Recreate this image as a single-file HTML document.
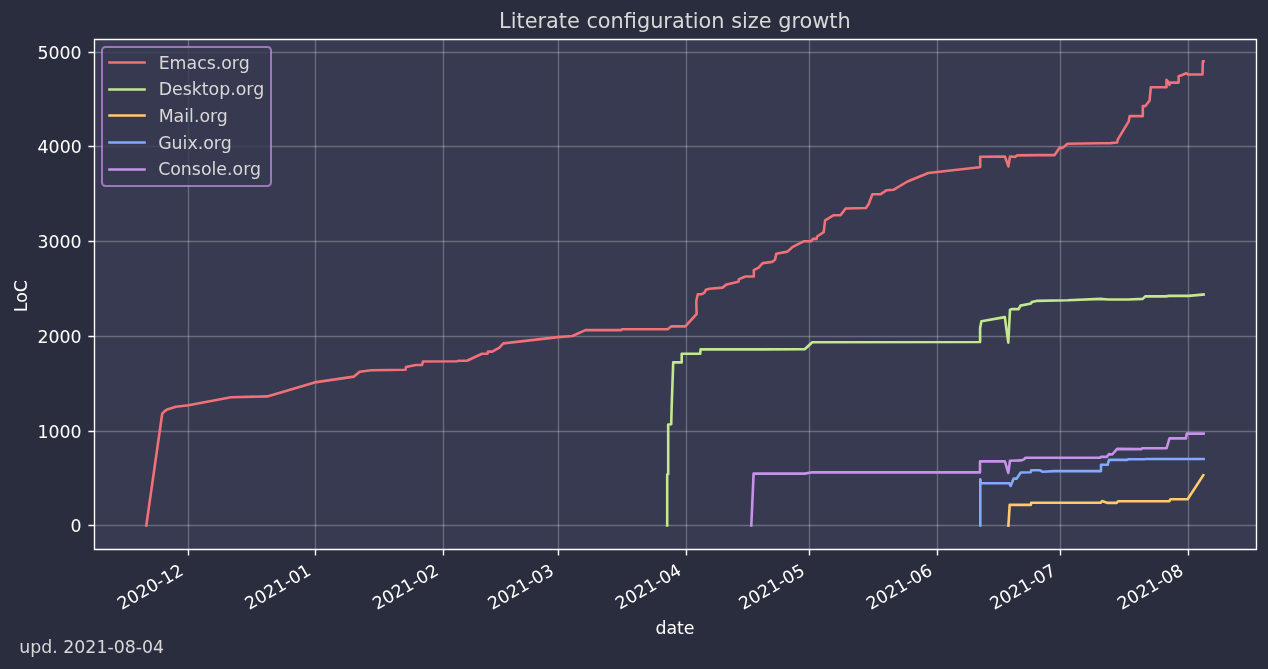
<!DOCTYPE html>
<html><head><meta charset="utf-8"><title>Literate configuration size growth</title>
<style>html,body{margin:0;padding:0;background:#292d3e;overflow:hidden}svg{display:block;will-change:transform}text{font-family:'DejaVu Sans', 'Liberation Sans', sans-serif;}</style></head><body>
<svg width="1268" height="669" viewBox="0 0 1268 669">
<rect x="0" y="0" width="1268" height="669" fill="#292d3e"/>
<rect x="94.5" y="39.5" width="1162.0" height="510.0" fill="#373a50"/>
<g stroke="#ffffff" stroke-opacity="0.25" stroke-width="1.3889" fill="none">
<path d="M188.5 39.5V549.5"/>
<path d="M315.5 39.5V549.5"/>
<path d="M443.5 39.5V549.5"/>
<path d="M558.5 39.5V549.5"/>
<path d="M686.5 39.5V549.5"/>
<path d="M809.5 39.5V549.5"/>
<path d="M937.5 39.5V549.5"/>
<path d="M1060.5 39.5V549.5"/>
<path d="M1188.5 39.5V549.5"/>
<path d="M94.5 525.5H1256.5"/>
<path d="M94.5 431.5H1256.5"/>
<path d="M94.5 336.5H1256.5"/>
<path d="M94.5 241.5H1256.5"/>
<path d="M94.5 146.5H1256.5"/>
<path d="M94.5 52.5H1256.5"/>
</g>
<defs><clipPath id="c"><rect x="94.5" y="39.5" width="1162.0" height="510.0"/></clipPath></defs>
<g clip-path="url(#c)" fill="none" stroke-width="2.6042" stroke-linejoin="round" stroke-linecap="square">
<path d="M146.3 525.5 L162.2 413.8 L164.4 411.3 L167.0 409.6 L176.0 406.8 L188.5 405.3 L231.0 397.2 L267.3 396.4 L314.6 382.4 L354.1 376.6 L359.6 371.8 L371.4 370.3 L405.5 369.7 L406.0 367.1 L415.8 365.0 L422.1 365.0 L422.9 361.5 L456.8 361.2 L459.1 360.8 L467.0 360.8 L482.0 353.7 L487.5 353.7 L488.0 351.6 L492.3 351.6 L499.4 347.7 L503.3 343.4 L557.7 337.1 L572.4 336.0 L585.4 330.1 L620.9 330.1 L622.1 329.2 L667.6 329.2 L671.1 326.4 L685.3 326.4 L696.6 314.0 L696.3 300.8 L697.8 294.3 L701.3 294.3 L704.5 292.6 L705.9 289.7 L709.5 288.8 L722.5 287.6 L726.6 284.4 L738.4 281.7 L739.0 279.1 L745.5 276.5 L753.8 276.5 L753.8 270.2 L758.6 267.6 L762.7 263.1 L772.2 261.9 L775.1 259.6 L776.3 253.7 L787.5 251.6 L792.3 247.2 L804.1 241.2 L811.2 241.2 L813.0 238.9 L816.5 238.9 L817.1 236.5 L823.7 232.2 L825.1 220.3 L833.8 215.2 L840.5 215.2 L845.6 208.5 L865.9 208.0 L868.6 204.2 L872.4 194.2 L880.7 194.2 L886.7 190.2 L893.4 189.8 L907.5 181.5 L928.3 173.0 L979.5 167.2 L980.2 167.0 L980.2 156.7 L1004.9 156.5 L1008.4 166.4 L1010.0 156.5 L1015.1 156.9 L1017.2 155.4 L1037.7 155.1 L1054.6 155.1 L1059.7 147.6 L1062.8 147.9 L1067.4 143.8 L1100.5 143.3 L1110.4 143.1 L1117.2 142.5 L1117.7 139.6 L1128.7 121.3 L1129.7 116.1 L1142.8 116.1 L1142.8 106.1 L1145.4 106.1 L1149.6 100.4 L1150.8 87.3 L1166.5 87.3 L1166.5 79.9 L1168.2 81.6 L1169.5 85.0 L1170.2 82.6 L1178.6 82.6 L1178.6 76.2 L1181.6 75.2 L1186.3 73.2 L1188.0 74.5 L1202.5 74.5 L1202.8 61.3 L1203.6 61.3" stroke="#f07178"/>
<path d="M667.2 525.5 L667.2 474.5 L668.2 474.2 L668.2 424.5 L671.2 424.3 L671.7 405.8 L673.2 362.4 L681.7 362.4 L681.7 353.8 L700.2 353.8 L700.6 349.4 L804.7 349.3 L812.3 342.2 L980.1 342.0 L980.1 328.1 L981.4 321.3 L1004.8 317.1 L1008.3 342.6 L1010.0 309.8 L1011.8 309.1 L1018.6 309.1 L1020.5 305.6 L1031.1 303.5 L1031.7 302.0 L1036.4 300.9 L1067.7 300.3 L1100.5 298.9 L1108.0 299.5 L1128.2 299.5 L1142.7 298.9 L1145.3 296.4 L1166.1 296.4 L1168.6 295.9 L1188.8 295.9 L1203.6 294.5" stroke="#c3e88d"/>
<path d="M1008.4 525.5 L1009.7 504.9 L1030.9 504.9 L1031.1 502.8 L1100.8 502.6 L1102.1 501.1 L1107.6 502.9 L1116.7 502.9 L1118.0 501.3 L1169.3 501.3 L1170.5 499.2 L1187.6 499.2 L1203.3 475.2" stroke="#ffcb6b"/>
<path d="M980.3 525.5 L980.3 479.3 L980.9 483.2 L1009.3 483.2 L1010.6 486.0 L1013.7 478.6 L1016.7 478.6 L1020.7 472.5 L1030.8 472.2 L1031.2 470.2 L1039.6 470.2 L1042.2 471.5 L1043.1 471.8 L1054.3 471.1 L1101.0 471.1 L1101.0 464.8 L1107.7 464.8 L1109.0 459.9 L1127.2 459.9 L1128.5 459.2 L1144.2 459.2 L1146.0 459.0 L1203.6 459.0" stroke="#82aaff"/>
<path d="M751.3 525.5 L753.6 473.6 L804.9 473.6 L812.2 472.3 L980.0 472.4 L980.0 461.4 L1004.9 461.4 L1008.3 472.9 L1010.0 460.8 L1021.4 460.4 L1024.4 459.1 L1025.4 457.7 L1100.1 457.6 L1101.0 456.9 L1106.8 456.9 L1109.0 454.1 L1112.2 454.5 L1117.1 448.9 L1141.5 449.1 L1142.4 448.2 L1166.6 448.2 L1169.5 438.4 L1185.9 438.4 L1186.8 433.6 L1203.6 433.6" stroke="#c792ea"/>
</g>
<path d="M94.5 39.5H1256.5V549.5H94.5Z" stroke="#ffffff" stroke-width="1.3889" fill="none" stroke-linejoin="miter" stroke-linecap="square"/>
<path d="M188.5 549.5v6.0764M315.5 549.5v6.0764M443.5 549.5v6.0764M558.5 549.5v6.0764M686.5 549.5v6.0764M809.5 549.5v6.0764M937.5 549.5v6.0764M1060.5 549.5v6.0764M1188.5 549.5v6.0764M94.5 525.5h-6.0764M94.5 431.5h-6.0764M94.5 336.5h-6.0764M94.5 241.5h-6.0764M94.5 146.5h-6.0764M94.5 52.5h-6.0764" stroke="#ffffff" stroke-width="1.3889" fill="none"/>
<g fill="#ffffff" font-size="17.3611">
<text transform="translate(121.771 610.165) rotate(-30)">2020-12</text>
<text transform="translate(249.343 610.165) rotate(-30)">2021-01</text>
<text transform="translate(376.915 610.165) rotate(-30)">2021-02</text>
<text transform="translate(492.142 610.165) rotate(-30)">2021-03</text>
<text transform="translate(619.822 610.102) rotate(-30)">2021-04</text>
<text transform="translate(743.171 610.165) rotate(-30)">2021-05</text>
<text transform="translate(870.634 610.227) rotate(-30)">2021-06</text>
<text transform="translate(994.199 610.165) rotate(-30)">2021-07</text>
<text transform="translate(1121.771 610.165) rotate(-30)">2021-08</text>
<text x="70.447" y="532.300">0</text>
<text x="37.447" y="437.550">1000</text>
<text x="37.447" y="342.800">2000</text>
<text x="37.447" y="248.050">3000</text>
<text x="37.572" y="153.300">4000</text>
<text x="37.447" y="58.550">5000</text>
<text x="655.412" y="633.536">date</text>
<text transform="translate(26.503 312.225) rotate(-90)">LoC</text>
</g>
<text x="499.1" y="28.183" fill="#d8d8d8" font-size="20.8333">Literate configuration size growth</text>
<rect x="102" y="47" width="169" height="139" rx="3.472" ry="3.472" fill="#373a50" fill-opacity="0.8" stroke="#c792ea" stroke-opacity="0.7" stroke-width="2"/>
<path d="M109.5 62.50H144.5" stroke="#f07178" stroke-width="2.6042" stroke-linecap="square"/>
<text x="158.636" y="69.225" fill="#d8d8d8" font-size="17.3611">Emacs.org</text>
<path d="M109.5 89.50H144.5" stroke="#c3e88d" stroke-width="2.6042" stroke-linecap="square"/>
<text x="158.636" y="94.906" fill="#d8d8d8" font-size="17.3611">Desktop.org</text>
<path d="M109.5 115.50H144.5" stroke="#ffcb6b" stroke-width="2.6042" stroke-linecap="square"/>
<text x="158.636" y="121.586" fill="#d8d8d8" font-size="17.3611">Mail.org</text>
<path d="M109.5 142.50H144.5" stroke="#82aaff" stroke-width="2.6042" stroke-linecap="square"/>
<text x="158.136" y="149.267" fill="#d8d8d8" font-size="17.3611">Guix.org</text>
<path d="M109.5 169.50H144.5" stroke="#c792ea" stroke-width="2.6042" stroke-linecap="square"/>
<text x="158.136" y="174.947" fill="#d8d8d8" font-size="17.3611">Console.org</text>
<text x="19.2" y="653.0" fill="#d8d8d8" font-size="17.3611">upd. 2021-08-04</text>
</svg></body></html>
